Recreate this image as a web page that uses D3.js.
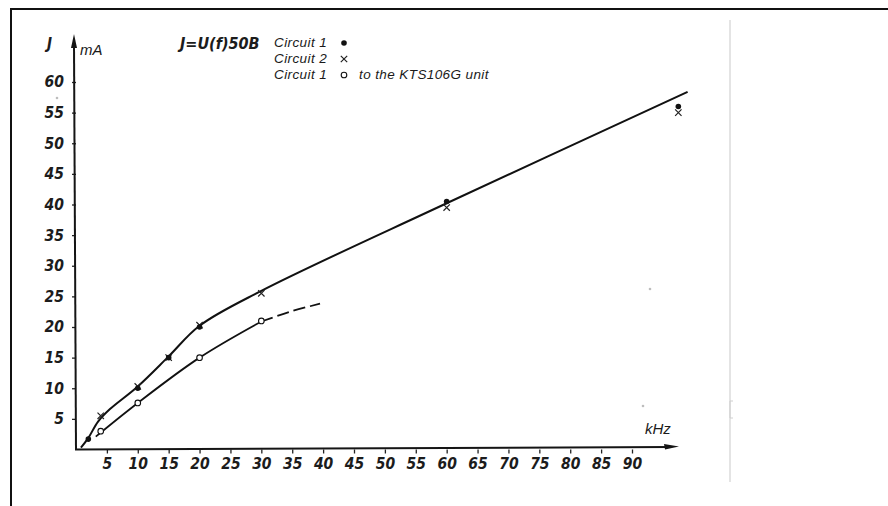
<!DOCTYPE html>
<html>
<head>
<meta charset="utf-8">
<script src="https://cdn.jsdelivr.net/npm/d3@7"></script>
<style>
	body { margin: 0; background: #fff; }
	svg { display: block; }
	.hand { font-family: "DejaVu Sans Condensed", "DejaVu Sans", sans-serif; font-style: oblique; fill: #1c1c1c; }
	.note { font-family: "Liberation Sans", Arial, sans-serif; font-style: italic; fill: #1a1a1a; }
</style>
</head>
<body>
<div></div>
<script>
// tick labels
var xTicks = [5, 10, 15, 20, 25, 30, 35, 40, 45, 50, 55, 60, 65, 70, 75, 80, 85, 90];
var yTicks = [5, 10, 15, 20, 25, 30, 35, 40, 45, 50, 55, 60];

// measured points, kHz / mA
var circuit1Khz = [2, 10, 15, 20, 60, 97.5];
var circuit1Ma  = [1.7, 10, 15, 20, 40.5, 56];
var circuit2Khz = [4, 10, 15, 20, 30, 60, 97.5];
var circuit2Ma  = [5.5, 10.3, 15, 20.3, 25.5, 39.5, 55];
var ktsKhz = [4, 10, 20, 30];
var ktsMa  = [3, 7.6, 15, 21];

// hand drawn curves
var upperCurveKhz = [0.8, 2, 3.6, 5.5, 10, 15, 20, 30, 60, 99];
var upperCurveMa  = [0.3, 1.9, 4.6, 6.6, 10.3, 15.2, 20.2, 25.9, 40.2, 58.4];
var lowerCurveKhz = [3.2, 10, 20, 30];
var lowerCurveMa  = [2.1, 7.6, 15, 20.9];
var lowerDashKhz = [30, 35, 39.5];
var lowerDashMa  = [20.9, 22.6, 23.8];

var legendNames = ["Circuit 1", "Circuit 2", "Circuit 1"];
var legendMarks = ["dot", "cross", "ring"];

var svgContainer, xScale, yScale;

function onLoad() {
	svgContainer = d3.select("div")
	.append("svg")
	.attr("width", 888)
	.attr("height", 506);

	xScale = d3.scaleLinear().domain([0, 90]).range([76, 632]);
	yScale = d3.scaleLinear().domain([0, 60]).range([449.5, 82]);

	drawFrame();
	drawAxes();
	drawCurve(zip(upperCurveKhz, upperCurveMa), 2, null);
	drawCurve(zip(lowerCurveKhz, lowerCurveMa), 1.8, null);
	drawCurve(zip(lowerDashKhz, lowerDashMa), 1.8, "12,5");

	zip(ktsKhz, ktsMa).forEach(function (p) { drawMark("ring", xScale(p.x), yScale(p.y)); });
	zip(circuit2Khz, circuit2Ma).forEach(function (p) { drawMark("cross", xScale(p.x), yScale(p.y)); });
	zip(circuit1Khz, circuit1Ma).forEach(function (p) { drawMark("dot", xScale(p.x), yScale(p.y)); });

	drawLegend();
}

function zip(xs, ys) {
	return xs.map(function (x, i) { return {x: x, y: ys[i]}; });
}

///////////////////////////////////
////////////DRAWING////////////////
///////////////////////////////////

function drawFrame() {
	svgContainer.append("rect")
	.attr("x", 11).attr("y", 9)
	.attr("width", 900).attr("height", 520)
	.attr("fill", "none")
	.attr("stroke", "#111")
	.attr("stroke-width", 2);

	svgContainer.append("line")
	.attr("x1", 730).attr("y1", 20)
	.attr("x2", 730).attr("y2", 482)
	.attr("stroke", "#e4e4e4")
	.attr("stroke-width", 2);

	svgContainer.append("path")
	.attr("d", "M733,401 H730 V418 H733")
	.attr("fill", "none")
	.attr("stroke", "#cfcfcf")
	.attr("stroke-width", 1);

	// specks from the scan
	[[650, 289], [643, 406], [57, 98]].forEach(function (s) {
		svgContainer.append("circle")
		.attr("cx", s[0]).attr("cy", s[1]).attr("r", 1.3)
		.attr("fill", "#bdbdbd");
	});
}

function drawAxes() {
	var xAxis = d3.axisBottom(xScale).tickValues(xTicks).tickSize(4).tickPadding(4);
	var yAxis = d3.axisLeft(yScale).tickValues(yTicks).tickSize(4).tickPadding(8);

	var xg = svgContainer.append("g")
	.attr("transform", "translate(0," + yScale(0) + ")")
	.call(xAxis);
	var yg = svgContainer.append("g")
	.attr("transform", "translate(" + xScale(0) + ",0)")
	.call(yAxis);

	[xg, yg].forEach(function (g) {
		g.attr("font-size", null).attr("font-family", null);
		g.select(".domain").remove();
		g.selectAll("line").attr("stroke", "#222").attr("stroke-width", 1.3);
		g.selectAll("text")
		.attr("class", "hand")
		.attr("fill", null)
		.style("font-size", "15.5px")
		.style("font-weight", "600");
	});

	// axis lines with arrows
	svgContainer.append("line")
	.attr("x1", xScale(0) - 1).attr("y1", yScale(0))
	.attr("x2", 672).attr("y2", yScale(0) - 2.5)
	.attr("stroke", "#151515").attr("stroke-width", 2);
	svgContainer.append("path")
	.attr("d", "M679,446.5 L664,444 L665,449.5 Z")
	.attr("fill", "#151515");

	svgContainer.append("line")
	.attr("x1", xScale(0)).attr("y1", yScale(0))
	.attr("x2", xScale(0) - 2).attr("y2", 44)
	.attr("stroke", "#151515").attr("stroke-width", 2);
	svgContainer.append("path")
	.attr("d", "M74,34 L71,48 L77,48 Z")
	.attr("fill", "#151515");

	svgContainer.append("text")
	.attr("class", "hand")
	.attr("x", 47).attr("y", 49)
	.style("font-size", "15px")
	.style("font-weight", "bold")
	.text("J");

	svgContainer.append("text")
	.attr("class", "note")
	.attr("x", 80).attr("y", 55)
	.style("font-size", "15px")
	.text("mA");

	svgContainer.append("text")
	.attr("class", "note")
	.attr("x", 645).attr("y", 434)
	.style("font-size", "15px")
	.text("kHz");
}

function drawCurve(points, width, dash) {
	var line = d3.line()
	.x(function (d) { return xScale(d.x); })
	.y(function (d) { return yScale(d.y); })
	.curve(d3.curveCatmullRom.alpha(0.5));

	svgContainer.append("path")
	.datum(points)
	.attr("d", line)
	.attr("fill", "none")
	.attr("stroke", "#111")
	.attr("stroke-width", width)
	.attr("stroke-dasharray", dash);
}

function drawMark(kind, cx, cy) {
	if (kind === "dot") {
		svgContainer.append("circle")
		.attr("cx", cx).attr("cy", cy).attr("r", 2.8)
		.attr("fill", "#111");
	} else if (kind === "ring") {
		svgContainer.append("circle")
		.attr("cx", cx).attr("cy", cy).attr("r", 2.8)
		.attr("fill", "#fff")
		.attr("stroke", "#111")
		.attr("stroke-width", 1.1);
	} else {
		var s = 3.2;
		svgContainer.append("path")
		.attr("d", "M" + (cx - s) + "," + (cy - s) + " L" + (cx + s) + "," + (cy + s) +
			" M" + (cx + s) + "," + (cy - s) + " L" + (cx - s) + "," + (cy + s))
		.attr("stroke", "#222")
		.attr("stroke-width", 1.2);
	}
}

function drawLegend() {
	svgContainer.append("text")
	.attr("class", "hand")
	.attr("x", 180).attr("y", 49)
	.style("font-size", "16px")
	.style("font-weight", "bold")
	.text("J=U(f)50B");

	legendNames.forEach(function (name, i) {
		var y = 42 + i * 16;
		svgContainer.append("text")
		.attr("class", "note")
		.attr("x", 274).attr("y", y + 5)
		.style("font-size", "13.5px")
		.style("letter-spacing", "0.4px")
		.text(name);
		drawMark(legendMarks[i], 344, y + 1);
	});

	svgContainer.append("text")
	.attr("class", "note")
	.attr("x", 359).attr("y", 42 + 2 * 16 + 5)
	.style("font-size", "13.5px")
	.style("letter-spacing", "0.4px")
	.text("to the KTS106G unit");
}

onLoad();
</script>
</body>
</html>
